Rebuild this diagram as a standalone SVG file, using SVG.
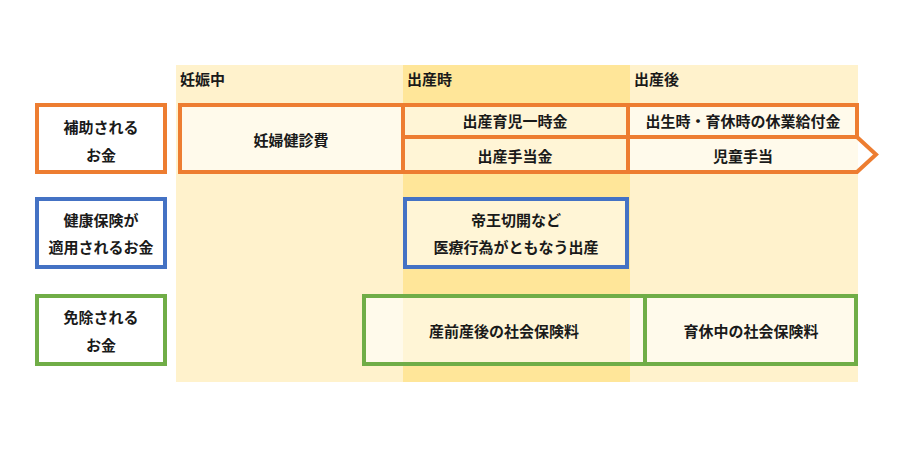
<svg xmlns="http://www.w3.org/2000/svg" width="900" height="450" viewBox="0 0 900 450">
<style>
text{font-family:"Noto Sans CJK JP","Noto Sans",sans-serif;font-size:15px;font-weight:bold;fill:#1a1a1a;text-anchor:middle;dominant-baseline:central}
.hdr{text-anchor:start}
.o{stroke:#ed7d31;stroke-width:4;fill:#ffffff;fill-opacity:0.6}
.b{stroke:#4472c4;stroke-width:4;fill:#ffffff;fill-opacity:0.6}
.g{stroke:#70ad47;stroke-width:4;fill:#ffffff;fill-opacity:0.6}
.lab{fill:#ffffff;fill-opacity:1}
</style>
<rect width="900" height="450" fill="#ffffff"/>
<g id="columns">
<rect x="176" y="65" width="227" height="317" fill="#fff2cc"/>
<rect x="403" y="65" width="227" height="317" fill="#ffe699"/>
<rect x="630" y="65" width="228" height="317" fill="#fff2cc"/>
<text class="hdr" x="180" y="78">妊娠中</text>
<text class="hdr" x="407" y="78">出産時</text>
<text class="hdr" x="634" y="78">出産後</text>
</g>
<g id="label-subsidy">
<rect class="o lab" x="37" y="105" width="128" height="67"/>
<text x="101" y="126">補助される</text>
<text x="101" y="154">お金</text>
</g>
<g id="label-insurance">
<rect class="b lab" x="37" y="199" width="128" height="68"/>
<text x="101" y="219">健康保険が</text>
<text x="101" y="246">適用されるお金</text>
</g>
<g id="label-exempt">
<rect class="g lab" x="37" y="296" width="128" height="68"/>
<text x="101" y="316">免除される</text>
<text x="101" y="344">お金</text>
</g>
<g id="node-checkup">
<rect class="o" x="180" y="105" width="223" height="67"/>
<text x="291" y="139">妊婦健診費</text>
</g>
<g id="node-lump">
<rect class="o" x="403" y="105" width="225" height="32"/>
<text x="515" y="120">出産育児一時金</text>
</g>
<g id="node-allowance">
<rect class="o" x="403" y="137" width="225" height="35"/>
<text x="515" y="155">出産手当金</text>
</g>
<g id="node-leave">
<rect class="o" x="628" y="105" width="229" height="32"/>
<text x="743" y="120">出生時・育休時の休業給付金</text>
</g>
<g id="node-child">
<path class="o" d="M628,137 H857 L876,154.5 L857,172 H628 Z"/>
<text x="743" y="155">児童手当</text>
</g>
<g id="node-csection">
<rect class="b" x="405" y="199" width="222" height="68"/>
<text x="516" y="219">帝王切開など</text>
<text x="516" y="246">医療行為がともなう出産</text>
</g>
<g id="node-prepost">
<rect class="g" x="364" y="296" width="281" height="68"/>
<text x="504" y="330">産前産後の社会保険料</text>
</g>
<g id="node-childcare">
<rect class="g" x="645" y="296" width="211" height="68"/>
<text x="751" y="330">育休中の社会保険料</text>
</g>
<g id="connectors"></g>
</svg>
